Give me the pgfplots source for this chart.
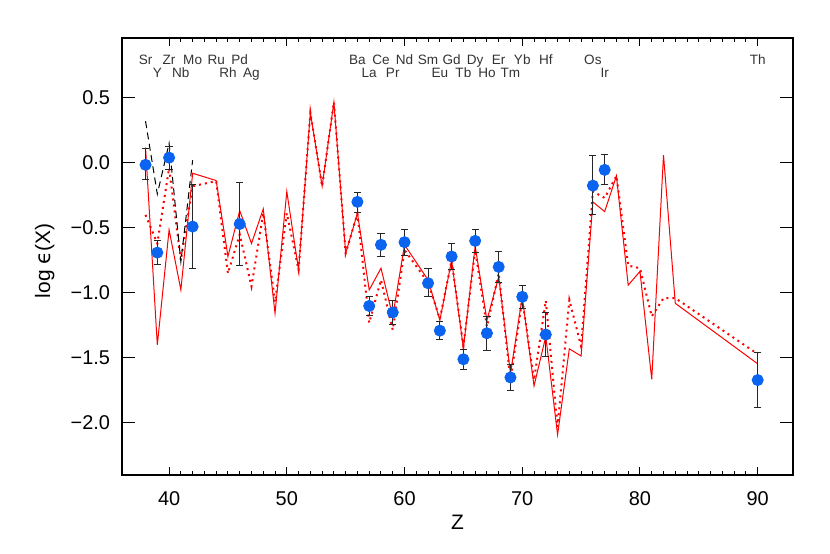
\documentclass[border=0pt]{standalone}
\usepackage{pgfplots}
\pgfplotsset{compat=1.18}
\usetikzlibrary{calc}
\usepackage{fontspec}
\setmainfont{Liberation Sans}
\newfontfamily\djv{DejaVu Sans}
\definecolor{ptblue}{RGB}{10,100,240}

\pgfplotstableread{
Z v
38 0.118
39 -1.40
40 -0.515
41 -0.977
42 -0.08
44 -0.136
45 -0.72
46 -0.367
47 -0.62
48 -0.354
49 -1.157
50 -0.22
51 -0.823
52 0.387
53 -0.18
54 0.467
55 -0.695
56 -0.387
57 -0.977
58 -0.81
59 -1.18
60 -0.63
62 -0.90
63 -1.21
64 -0.75
65 -1.425
66 -0.64
67 -1.21
68 -0.875
69 -1.62
70 -1.03
71 -1.715
72 -1.335
73 -2.09
74 -1.43
75 -1.485
76 -0.30
77 -0.375
78 -0.10
79 -0.94
80 -0.835
81 -1.665
82 0.06
83 -1.08
90 -1.545
}\solidmodel

\pgfplotstableread{
Z v
38 -0.40
39 -0.62
40 -0.04
41 -0.75
42 -0.18
44 -0.14
45 -0.85
46 -0.55
47 -0.95
48 -0.387
49 -1.07
50 -0.387
51 -0.823
52 0.387
53 -0.18
54 0.467
55 -0.695
56 -0.39
57 -1.23
58 -0.90
59 -1.285
60 -0.67
62 -0.92
63 -1.20
64 -0.75
65 -1.41
66 -0.67
67 -1.26
68 -0.85
69 -1.67
70 -1.05
71 -1.67
72 -1.06
73 -2.03
74 -1.054
75 -1.41
76 -0.22
77 -0.27
78 -0.10
79 -0.79
80 -0.81
81 -1.18
82 -1.04
83 -1.04
90 -1.47
}\dottedmodel

\pgfplotstableread{
Z v
38 0.32
39 -0.24
40 0.15
41 -0.76
42 0.02
}\dashedmodel

\pgfplotstableread{
Z v ep em
38 -0.015 0.125 0.115
39 -0.69 0.09 0.09
40 0.04 0.085 0.09
42 -0.49 0.32 0.32
46 -0.47 0.32 0.32
56 -0.30 0.075 0.08
57 -1.10 0.07 0.07
58 -0.63 0.09 0.09
59 -1.15 0.09 0.09
60 -0.61 0.095 0.10
62 -0.925 0.115 0.105
63 -1.29 0.07 0.07
64 -0.72 0.10 0.10
65 -1.51 0.075 0.08
66 -0.60 0.09 0.09
67 -1.31 0.13 0.13
68 -0.80 0.12 0.12
69 -1.65 0.10 0.10
70 -1.03 0.09 0.09
72 -1.32 0.17 0.17
76 -0.175 0.23 0.225
77 -0.054 0.12 0.115
90 -1.67 0.21 0.21
}\obs

\pgfplotstableread{
Z v lab
38 0.755 Sr
40 0.755 Zr
42 0.755 Mo
44 0.755 Ru
46 0.755 Pd
56 0.755 Ba
58 0.755 Ce
60 0.755 Nd
62 0.755 Sm
64 0.755 Gd
66 0.755 Dy
68 0.755 Er
70 0.755 Yb
72 0.755 Hf
76 0.755 Os
90 0.755 Th
39 0.655 Y
41 0.655 Nb
45 0.655 Rh
47 0.655 Ag
57 0.655 La
59 0.655 Pr
63 0.655 Eu
65 0.655 Tb
67 0.655 Ho
69 0.655 Tm
77 0.655 Ir
}\elems

\begin{document}
\begin{tikzpicture}
\begin{axis}[
  scale only axis,
  width=335.5bp, height=218.5bp,
  xmin=36, xmax=93,
  ymin=-2.4, ymax=0.96,
  xtick={40,50,60,70,80,90},
  xticklabels={40,50,60,70,80,90},
  minor x tick num=9,
  ytick={-2,-1.5,-1,-0.5,0,0.5},
  yticklabels={−2.0,−1.5,−1.0,−0.5,0.0,0.5},
  tick align=inside,
  xtick style={black, line width=0.5bp, /pgfplots/major tick length=4bp, /pgfplots/minor tick length=2bp},
  ytick style={black, line width=0.5bp, /pgfplots/major tick length=6.5bp},
  axis line style={line width=1.3bp},
  ticklabel style={font=\fontsize{10}{12}\selectfont},
  xticklabel style={yshift=-5bp},
  yticklabel style={xshift=-2.5bp},
  xlabel={Z},
  ylabel={log {\djv ϵ}(X)},
  label style={font=\fontsize{10.5}{12}\selectfont},
  xlabel style={at={(axis description cs:0.5,-0.1075)}, anchor=center},
  ylabel style={at={(axis description cs:-0.115,0.49)}, anchor=center, rotate=0},
]
\addplot[red, line width=0.5bp, mark=none] table[x=Z,y=v] {\solidmodel};
\addplot[red, line width=1bp, dash pattern=on 1bp off 2bp, mark=none] table[x=Z,y=v] {\dottedmodel};
\addplot[black, line width=0.5bp, dash pattern=on 3.5bp off 2.2bp, mark=none] table[x=Z,y=v] {\dashedmodel};
\addplot[draw=none, mark=none,
  error bars/.cd, y dir=both, y explicit,
  error bar style={black!85, line width=0.5bp},
  error mark options={rotate=90, black!85, line width=0.5bp, mark size=1.8bp}]
  table[x=Z, y=v, y error plus=ep, y error minus=em] {\obs};
\addplot[only marks, mark=*, mark size=2.8bp, mark options={fill=ptblue, draw=ptblue}] table[x=Z,y=v] {\obs};
\addplot[draw=none, mark=none, nodes near coords, point meta=explicit symbolic,
  every node near coord/.append style={anchor=base, inner sep=0pt, font=\fontsize{6.8}{8}\selectfont, text=black!80}]
  table[x=Z,y=v,meta=lab] {\elems};
\end{axis}
\pgfresetboundingbox
\path ($(current axis.south west)+(-61bp,-39bp)$) rectangle ($(current axis.north east)+(18.5bp,19bp)$);
\end{tikzpicture}
\end{document}
